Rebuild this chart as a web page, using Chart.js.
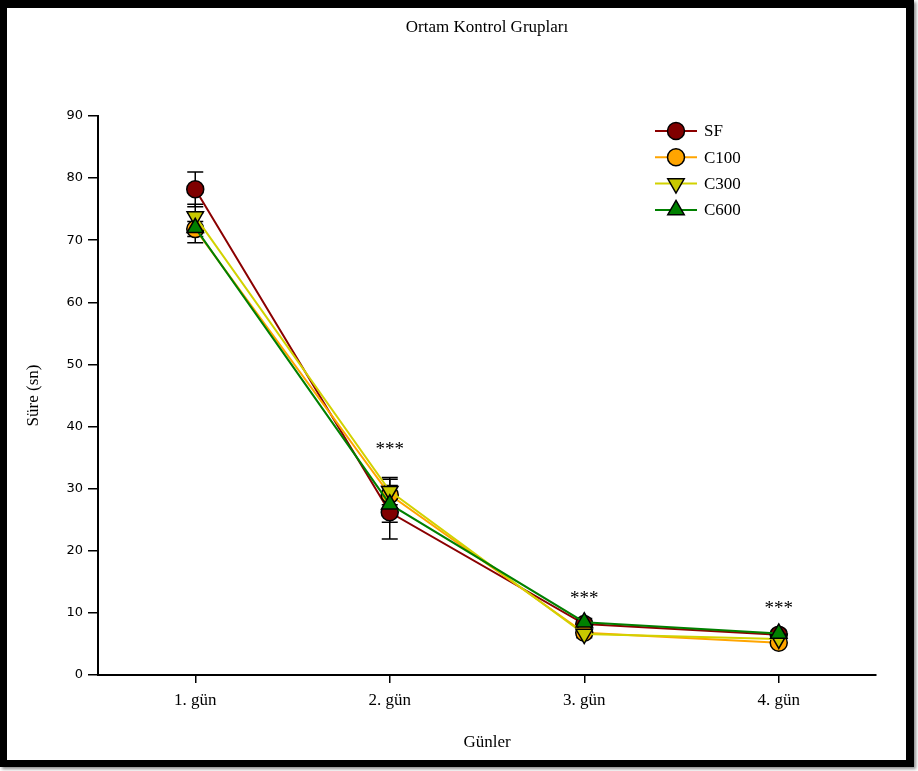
<!DOCTYPE html>
<html>
<head>
<meta charset="utf-8">
<title>Ortam Kontrol Grupları</title>
<script src="https://cdn.jsdelivr.net/npm/chart.js@4/dist/chart.umd.min.js"></script>
<style>
    html, body { margin: 0; padding: 0; background: #fff; }
    #wrap { position: relative; width: 918px; height: 771px; overflow: hidden; }
    #grafik { position: absolute; left: 0; top: 0; }
    /* siyah çerçeve */
    #cerceve {
        position: absolute; left: 0; top: 0;
        width: 899px; height: 752px;
        border-style: solid; border-color: #000;
        border-width: 8px 8px 7px 7px;
        box-shadow: 2px 2px 3px rgba(0, 0, 0, .45);
        pointer-events: none;
    }
</style>
</head>
<body>
<div id="wrap">
    <canvas id="grafik" width="918" height="771"></canvas>
    <div id="cerceve"></div>
</div>
<script>
// Günler ve grup ortalamaları (sn) + standart hata
var gunler = ['1. gün', '2. gün', '3. gün', '4. gün'];

var sf = [78.2, 26.2, 8.2, 6.5];
var sfHata = [2.8, 4.3, 0.6, 0.5];

var c100 = [71.8, 29.0, 6.8, 5.2];
var c100Hata = [1.2, 2.5, 0.6, 0.6];

var c300 = [73.8, 29.6, 6.6, 5.8];
var c300Hata = [2.0, 2.2, 0.6, 0.5];

var c600 = [72.0, 27.5, 8.5, 6.7];
var c600Hata = [2.4, 2.9, 0.6, 0.5];

// anlamlılık işaretleri ve yazıldıkları yükseklik (sn)
var yildizlar = ['', '***', '***', '***'];
var yildizY = [null, 36.2, 12.2, 10.7];

var yTicks = [0, 10, 20, 30, 40, 50, 60, 70, 80, 90];

var serif = 'Liberation Serif, Times New Roman, serif';

// Hata çubukları - noktaların altında kalsın
var hataCubuklari = {
    id: 'hataCubuklari',
    beforeDatasetsDraw: function (chart) {
        var ctx = chart.ctx;
        var x = chart.scales.x, y = chart.scales.y;
        ctx.save();
        ctx.strokeStyle = '#000';
        ctx.lineWidth = 1.5;
        chart.data.datasets.forEach(function (ds) {
            if (!ds.hata) return;
            ds.data.forEach(function (v, i) {
                var px = x.getPixelForValue(i);
                var ust = y.getPixelForValue(v + ds.hata[i]);
                var alt = y.getPixelForValue(v - ds.hata[i]);
                ctx.beginPath();
                ctx.moveTo(px, ust); ctx.lineTo(px, alt);
                ctx.moveTo(px - 8, ust); ctx.lineTo(px + 8, ust);
                ctx.moveTo(px - 8, alt); ctx.lineTo(px + 8, alt);
                ctx.stroke();
            });
        });
        ctx.restore();
    }
};

// *** işaretleri
var yildizEklenti = {
    id: 'yildizEklenti',
    afterDatasetsDraw: function (chart) {
        var ctx = chart.ctx;
        ctx.save();
        ctx.fillStyle = '#000';
        ctx.font = '19px ' + serif;
        ctx.textAlign = 'center';
        ctx.textBaseline = 'middle';
        yildizlar.forEach(function (t, i) {
            if (!t) return;
            ctx.fillText(t, chart.scales.x.getPixelForValue(i), chart.scales.y.getPixelForValue(yildizY[i]));
        });
        ctx.restore();
    }
};

// Sağ üstteki açıklama kutusu
var aciklama = {
    id: 'aciklama',
    afterDraw: function (chart) {
        var ctx = chart.ctx;
        var x0 = 655, x1 = 697, y0 = 131, adim = 26.3;
        ctx.save();
        chart.data.datasets.forEach(function (ds, i) {
            var yy = y0 + i * adim;
            ctx.strokeStyle = ds.borderColor;
            ctx.lineWidth = 2;
            ctx.beginPath();
            ctx.moveTo(x0, yy); ctx.lineTo(x1, yy);
            ctx.stroke();

            ctx.fillStyle = ds.pointBackgroundColor;
            ctx.strokeStyle = '#000';
            ctx.lineWidth = ds.pointBorderWidth;
            Chart.helpers.drawPoint(ctx, {
                pointStyle: ds.pointStyle,
                rotation: ds.pointRotation || 0,
                radius: ds.pointRadius,
                borderWidth: ds.pointBorderWidth
            }, (x0 + x1) / 2, yy);

            ctx.fillStyle = '#000';
            ctx.font = '17px ' + serif;
            ctx.textAlign = 'left';
            ctx.textBaseline = 'middle';
            ctx.fillText(ds.label, x1 + 7, yy + 1);
        });
        ctx.restore();
    }
};

function seri(ad, veri, hata, cizgi, dolgu, stil, yaricap, donme, sira) {
    return {
        label: ad,
        data: veri,
        hata: hata,
        borderColor: cizgi,
        borderWidth: 2,
        fill: false,
        tension: 0,
        pointStyle: stil,
        pointRotation: donme,
        pointRadius: yaricap,
        pointHoverRadius: yaricap,
        pointBackgroundColor: dolgu,
        pointBorderColor: '#000',
        pointBorderWidth: 1.5,
        order: sira
    };
}

new Chart(document.getElementById('grafik'), {
    type: 'line',
    data: {
        labels: gunler,
        datasets: [
            seri('SF', sf, sfHata, '#8b0000', '#800000', 'circle', 8.5, 0, 3),
            seri('C100', c100, c100Hata, '#ffa500', '#ffa500', 'circle', 8.5, 0, 2),
            seri('C300', c300, c300Hata, '#d2d200', '#c8c800', 'triangle', 9.5, 180, 1),
            seri('C600', c600, c600Hata, '#008000', '#008000', 'triangle', 9.5, 0, 0)
        ]
    },
    options: {
        responsive: false,
        animation: false,
        devicePixelRatio: 1,
        layout: {padding: {left: 0, right: 42, top: 0, bottom: 0}},
        plugins: {
            legend: {display: false},
            tooltip: {enabled: false},
            title: {
                display: true,
                fullSize: false,
                text: 'Ortam Kontrol Grupları',
                color: '#000',
                font: {family: serif, size: 17, weight: 'normal'},
                padding: {top: 17, bottom: 78.6}
            }
        },
        scales: {
            x: {
                offset: true,
                grid: {drawOnChartArea: false, offset: false, tickLength: 8, color: '#000', lineWidth: 1.5},
                border: {color: '#000', width: 2},
                ticks: {color: '#000', font: {family: serif, size: 17}, padding: 7},
                title: {display: true, text: 'Günler', color: '#000', font: {family: serif, size: 17}, padding: {bottom: 18}},
                afterFit: function (s) { s.height = 96; }
            },
            y: {
                min: 0,
                max: 90,
                afterBuildTicks: function (s) {
                    s.ticks = yTicks.map(function (v) { return {value: v}; });
                },
                grid: {drawOnChartArea: false, tickLength: 10, color: '#000', lineWidth: 1.5},
                border: {color: '#000', width: 2},
                ticks: {color: '#000', font: {family: 'DejaVu Sans', size: 13}, padding: 5},
                title: {display: true, text: 'Süre (sn)', color: '#000', font: {family: serif, size: 17}, padding: {top: 23}},
                afterFit: function (s) { s.width = 98; }
            }
        }
    },
    plugins: [hataCubuklari, yildizEklenti, aciklama]
});
</script>
</body>
</html>
